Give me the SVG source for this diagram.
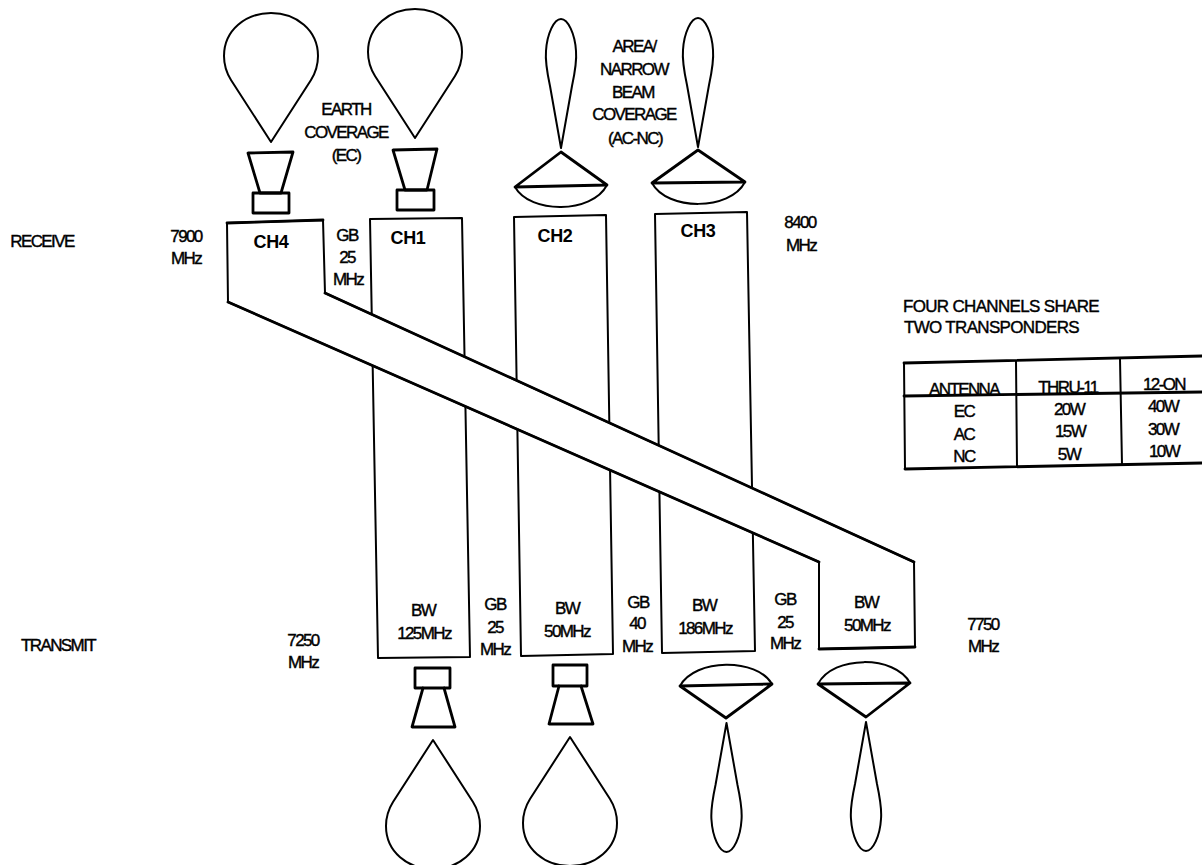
<svg xmlns="http://www.w3.org/2000/svg" width="1202" height="865" viewBox="0 0 1202 865">
<defs><style>
.l{fill:none;stroke:#000;stroke-width:2;stroke-linejoin:round;stroke-linecap:round}
.h{stroke-width:2.8}
.w{fill:#fff}
.t{font-family:"Liberation Sans",Arial,sans-serif;font-size:17px;fill:#000;stroke:#000;stroke-width:.4;text-anchor:middle;letter-spacing:-1.6px}
.b{font-weight:bold;font-size:18px;letter-spacing:-.3px;stroke-width:0}
.a{text-anchor:start}
</style>
<path id="drop" class="l" d="M0 0L-40-62C-45-70-47-78-47-86C-47-112-25-129 0-129C25-129 47-112 47-86C47-78 45-70 40-62Z"/>
<path id="lobe" class="l" d="M0 0L-11-62C-14-76-16-86-15-97C-14-114-7-129 0-129C7-129 14-114 15-97C16-86 14-76 11-62Z"/>
</defs>
<rect width="1202" height="865" fill="#fff"/>
<g id="connectors">
<path class="l" d="M370 219L462 218L470 657L378 658Z"/>
<path class="l" d="M514 217L606 215L613 654L521 656Z"/>
<path class="l" d="M655 214L747 212L755 651L662 653Z"/>
<path class="l w" style="fill:#fff" d="M227 223L323 220L325 293L914 562L915 647L819 649L819 562L228 302Z"/>
<path class="l h" d="M227 223L323 220M325 293L914 562M819 562L228 302M819 649L915 647"/>
</g>
<g id="ch4-receive-antenna">
<use href="#drop" transform="translate(271 142)"/>
<path class="l h" d="M248 153L293 152L281 193H260Z"/><rect class="l h" x="253" y="193" width="36" height="20"/>
</g>
<g id="ch1-receive-antenna">
<use href="#drop" transform="translate(415 138)"/>
<path class="l h" d="M393 150L437 149L427 190H405Z"/><rect class="l h" x="397" y="190" width="37" height="20"/>
</g>
<g id="ch2-receive-antenna">
<use href="#lobe" transform="translate(561 148)"/>
<path class="l h" d="M515 187L561 152L607 185Z"/><path class="l" d="M515 187C530 214 592 214 607 185"/>
</g>
<g id="ch3-receive-antenna">
<use href="#lobe" transform="translate(698 147)"/>
<path class="l h" d="M652 183L698 150L745 182Z"/><path class="l" d="M652 183C667 211 730 211 745 182"/>
</g>
<g id="tx1-antenna">
<rect class="l h" x="415" y="668" width="35" height="20"/>
<path class="l h" d="M423 688L412 727H455L444 688"/>
<use href="#drop" transform="translate(433 740) rotate(180)"/>
</g>
<g id="tx2-antenna">
<rect class="l h" x="553" y="665" width="34" height="21"/>
<path class="l h" d="M559 686L549 724H593L581 686"/>
<use href="#drop" transform="translate(570 737) rotate(180)"/>
</g>
<g id="tx3-antenna">
<path class="l h" d="M680 686L772 684L726 718Z"/><path class="l" d="M680 686C695 658 757 658 772 684"/>
<use href="#lobe" transform="translate(726.500 723) rotate(180)"/>
</g>
<g id="tx4-antenna">
<path class="l h" d="M818 684L910 683L866 717Z"/><path class="l" d="M818 684C833 655 895 655 910 683"/>
<use href="#lobe" transform="translate(866 722) rotate(180)"/>
</g>
<g id="table">
<path class="l h" d="M1202 356L904 363M1202 463L905 469M904 396L1202 392"/>
<path class="l" d="M904 363L905 469M1016 361L1017 467M1120 359L1122 465"/>
</g>
<g id="labels">
<text class="t" x="42" y="247">RECEIVE</text>
<text class="t" x="186" y="242">7900</text><text class="t" x="186" y="264">MHz</text>
<text class="t b" x="271" y="248">CH4</text>
<text class="t b" x="408" y="244">CH1</text>
<text class="t b" x="555" y="242">CH2</text>
<text class="t b" x="698" y="237">CH3</text>
<text class="t" x="347" y="241">GB</text><text class="t" x="347" y="263">25</text><text class="t" x="348" y="285">MHz</text>
<text class="t" x="346" y="115">EARTH</text><text class="t" x="346" y="138">COVERAGE</text><text class="t" x="346" y="161">(EC)</text>
<text class="t" x="634" y="52">AREA/</text><text class="t" x="634" y="75">NARROW</text><text class="t" x="633" y="98">BEAM</text><text class="t" x="634" y="120">COVERAGE</text><text class="t" x="635" y="144">(AC-NC)</text>
<text class="t" x="800" y="228">8400</text><text class="t" x="801" y="251">MHz</text>
<text class="t a" x="903" y="312" textLength="195">FOUR CHANNELS SHARE</text>
<text class="t a" x="904" y="333" textLength="174">TWO TRANSPONDERS</text>
<text class="t" x="964" y="395">ANTENNA</text><text class="t" x="1068" y="393">THRU-11</text><text class="t" x="1164" y="390">12-ON</text>
<text class="t" x="964" y="417">EC</text><text class="t" x="1069" y="415">20W</text><text class="t" x="1163" y="412">40W</text>
<text class="t" x="964" y="440">AC</text><text class="t" x="1070" y="437">15W</text><text class="t" x="1163" y="435">30W</text>
<text class="t" x="964" y="462">NC</text><text class="t" x="1069" y="460">5W</text><text class="t" x="1164" y="457">10W</text>
<text class="t" x="58" y="651">TRANSMIT</text>
<text class="t" x="303" y="646">7250</text><text class="t" x="303" y="668">MHz</text>
<text class="t" x="423" y="616">BW</text><text class="t" x="424" y="639">125MHz</text>
<text class="t" x="495" y="610">GB</text><text class="t" x="495" y="633">25</text><text class="t" x="495" y="655">MHz</text>
<text class="t" x="567" y="614">BW</text><text class="t" x="567" y="637">50MHz</text>
<text class="t" x="638" y="608">GB</text><text class="t" x="637" y="629">40</text><text class="t" x="637" y="652">MHz</text>
<text class="t" x="704" y="611">BW</text><text class="t" x="705" y="634">186MHz</text>
<text class="t" x="785" y="605">GB</text><text class="t" x="785" y="628">25</text><text class="t" x="785" y="649">MHz</text>
<text class="t" x="866" y="608">BW</text><text class="t" x="867" y="631">50MHz</text>
<text class="t" x="983" y="630">7750</text><text class="t" x="983" y="652">MHz</text>
</g>
</svg>
